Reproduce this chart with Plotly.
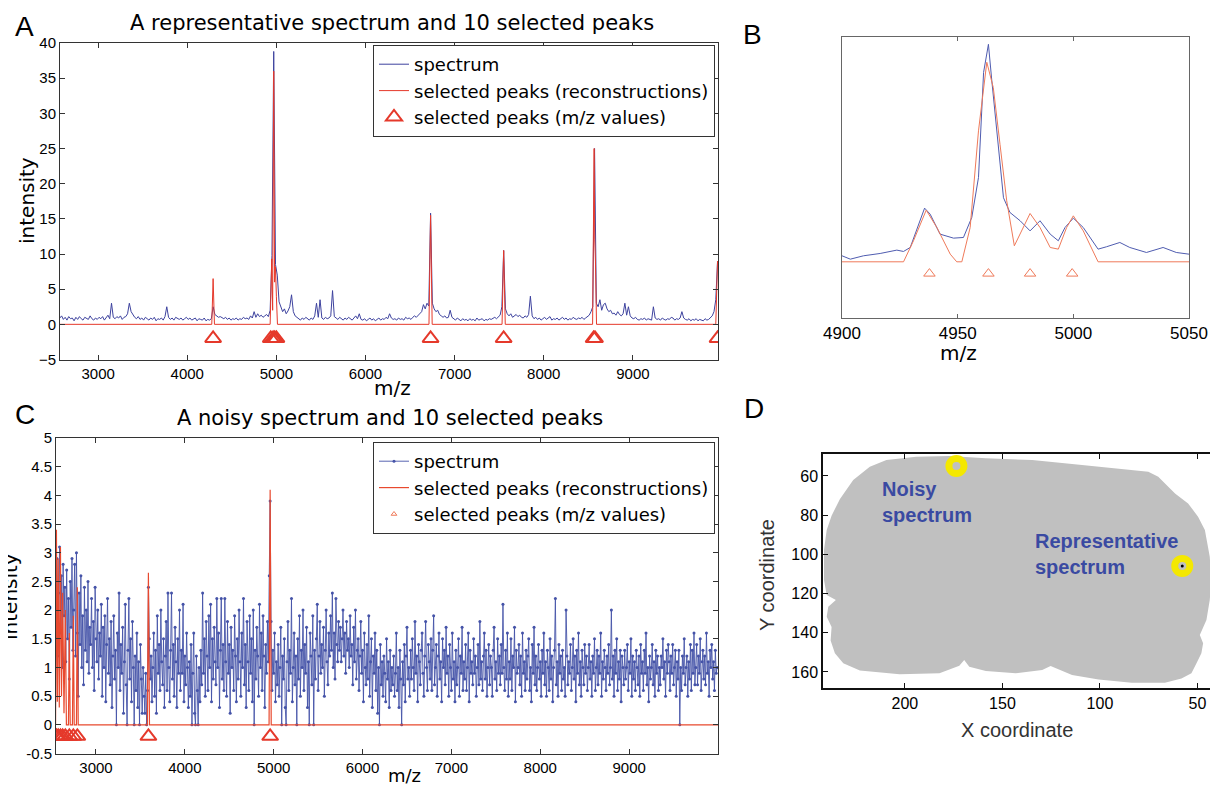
import plotly.graph_objects as go

# reference page size and the browser's default body margin
PAGE_W, PAGE_H = 1218, 787
OFF = 8
W, H = PAGE_W - OFF, PAGE_H - OFF

# ---------------- data: panel A (representative spectrum) ----------------
MZ_A_START, MZ_A_STEP = 2570, 20
SPEC_A = [
    0.9, 1.2, 0.7, 1.0, 0.6, 1.1, 0.8, 0.9, 0.5, 1.0,
    0.7, 1.1, 0.8, 0.6, 1.0, 0.9, 0.7, 1.2, 0.8, 0.6,
    0.9, 0.7, 1.0, 0.8, 1.1, 0.6, 0.9, 1.3, 0.8, 3.0,
    1.0, 0.8, 1.1, 0.9, 1.2, 0.7, 1.0, 1.1, 1.5, 3.0,
    1.8, 1.3, 1.0, 0.8, 1.1, 0.7, 0.9, 0.6, 1.0, 0.8,
    0.6, 0.9, 0.7, 1.0, 0.5, 0.8, 0.7, 0.9, 0.6, 1.1,
    2.5, 1.0, 0.7, 0.9, 0.6, 1.0, 0.8, 0.7, 0.9, 0.6,
    0.8, 1.0, 0.7, 0.9, 0.6, 0.8, 0.9, 0.5, 0.8, 0.7,
    0.6, 0.9, 0.5, 0.7, 0.6, 0.8, 2.5, 1.4, 1.2, 1.0,
    1.1, 0.9, 0.8, 1.0, 0.7, 0.9, 0.6, 0.8, 0.7, 0.9,
    0.6, 0.8, 0.7, 1.0, 0.8, 0.9, 0.7, 1.2, 0.9, 1.8,
    1.0, 1.5, 1.1, 1.3, 1.0, 1.2, 1.4, 1.1, 2.0, 9.8,
    38.8, 8.5, 7.0, 3.2, 2.4, 1.8, 2.2, 1.5, 1.9, 2.5,
    4.2, 1.8, 1.2, 1.0, 0.8, 0.6, 0.9, 0.7, 1.0, 0.8,
    0.6, 0.9, 0.7, 1.2, 3.0, 1.0, 3.5, 0.9, 0.7, 1.0,
    0.8, 0.9, 1.2, 4.8, 1.1, 0.9, 0.7, 1.0, 0.8, 0.6,
    0.9, 0.7, 1.0, 0.8, 0.6, 0.9, 1.2, 0.8, 1.5, 0.7,
    0.6, 0.8, 0.5, 0.7, 0.9, 0.6, 0.8, 0.5, 0.7, 0.9,
    0.6, 0.8, 0.7, 1.0, 0.8, 1.5, 0.9, 0.7, 0.8, 0.6,
    0.9, 0.7, 0.8, 0.6, 1.0, 0.8, 0.9, 0.7, 1.0, 1.2,
    1.0, 1.3, 1.5, 1.8, 2.8, 2.2, 3.0, 2.6, 15.8, 3.0,
    2.2, 1.8, 2.0, 1.4, 1.2, 1.0, 1.2, 0.9, 1.0, 2.0,
    1.0, 0.8, 0.6, 0.9, 0.7, 0.5, 0.8, 0.6, 0.7, 0.5,
    0.8, 0.6, 0.7, 0.5, 0.9, 0.6, 0.7, 0.8, 0.5, 0.7,
    0.6, 0.8, 0.7, 0.9, 1.0, 0.8, 1.1, 1.3, 2.5, 10.5,
    2.2, 1.5, 1.2, 1.5, 1.0, 1.2, 1.4, 1.1, 1.3, 1.0,
    0.9, 1.2, 1.0, 1.4, 4.0, 1.2, 0.8, 1.0, 0.7, 0.9,
    0.6, 0.8, 1.0, 0.7, 0.9, 1.1, 0.6, 0.8, 0.7, 0.9,
    0.6, 0.8, 1.0, 0.7, 0.9, 0.6, 0.8, 0.7, 1.0, 0.8,
    0.7, 0.9, 0.8, 1.0, 0.7, 0.9, 1.1, 1.3, 1.8, 2.5,
    25.0, 3.0, 2.5, 3.5, 2.0, 2.8, 3.0, 2.2, 1.8, 2.0,
    1.5, 1.6, 1.3, 1.8, 1.4, 1.2, 1.5, 3.0, 1.3, 2.5,
    1.2, 0.9, 0.8, 1.0, 0.7, 0.6, 0.8, 0.7, 0.9, 0.6,
    0.8, 0.7, 0.6, 2.5, 0.9, 0.7, 0.8, 0.6, 0.9, 0.7,
    0.6, 0.8, 0.7, 1.0, 0.9, 0.6, 0.8, 0.7, 0.9, 1.8,
    0.9, 0.7, 0.6, 0.8, 0.5, 0.7, 0.6, 0.8, 0.5, 0.7,
    0.6, 0.5, 0.8, 0.6, 0.7, 0.9, 1.2, 1.8, 3.5, 9.0,
]
RECON_A_MZ = [2570, 4275, 4290, 4305, 4930, 4948, 4958, 4970, 4980, 4990, 5000, 5012,
              6712, 6730, 6748, 7532, 7550, 7568, 8548, 8565, 8572, 8580, 8592, 9930, 9950]
RECON_A_INT = [0, 0, 6.5, 0, 0, 9.3, 2.0, 36.0, 6.0, 8.2, 4.0, 0,
               0, 15.5, 0, 0, 10.5, 0, 0, 25.0, 12.0, 9.0, 0, 0, 9.0]
PEAKS_A_MZ = [4290, 4937, 4963, 4981, 5000, 6730, 7550, 8560, 8575, 9950]
PEAK_LEVEL_A = -2.0

# ---------------- data: panel B (zoom 4900-5050) ----------------
B_BLUE_MZ = [4900, 4903.6, 4909.3, 4916.5, 4923.7, 4926.6, 4929.5, 4935.7, 4938.1, 4942.4,
             4948.2, 4952.5, 4956.1, 4959.0, 4961.2, 4963.3, 4964.7, 4966.9, 4969.8, 4972.6,
             4977.0, 4981.3, 4985.6, 4990.0, 4993.5, 4996.4, 5000.0, 5004.3, 5010.7, 5014.3,
             5020.1, 5024.4, 5031.6, 5038.8, 5044.5, 5050]
B_BLUE_INT = [1.07, 0.47, 1.07, 1.48, 2.08, 1.84, 2.55, 9.55, 8.48, 4.92,
              4.21, 4.33, 7.89, 15.0, 33.7, 38.7, 32.5, 23.9, 11.4, 8.78,
              7.3, 5.5, 7.3, 4.92, 3.74, 6.1, 7.77, 6.1, 2.25, 2.67,
              3.44, 2.55, 1.66, 2.55, 1.66, 1.36]
B_RED_MZ = [4900, 4926.6, 4930.9, 4936.4, 4941.0, 4946.8, 4949.6, 4951.8, 4955.4, 4959.0,
            4962.6, 4965.4, 4968.3, 4971.2, 4974.5, 4978.4, 4981.3, 4985.6, 4990.0, 4993.5,
            4997.1, 5000.0, 5004.3, 5010.7, 5050]
B_RED_INT = [0, 0, 3.74, 9.19, 6.1, 1.36, 0, 0, 6.1, 23.3,
             35.5, 31.0, 20.9, 10.85, 2.85, 6.1, 8.6, 6.1, 2.55, 2.25,
             6.1, 8.18, 5.5, 0, 0]
PEAKS_B_MZ = [4937.8, 4963.3, 4981.3, 4999.5]
PEAK_LEVEL_B = -2.1

# ---------------- data: panel C (noisy spectrum) ----------------
MZ_C_START, MZ_C_STEP = 2550, 10
SPEC_C = [
    1.8, 2.9, 1.2, 2.3, 3.1, 1.6, 2.6, 1.0, 2.8, 1.9,
    2.4, 1.1, 2.7, 1.5, 2.2, 0.8, 2.5, 1.7, 2.9, 1.3,
    2.0, 2.8, 1.2, 3.0, 1.6, 0.5, 2.3, 1.4, 2.6, 1.0,
    1.9, 0.7, 2.4, 1.3, 2.0, 1.1, 2.5, 0.9, 1.7, 1.4,
    2.2, 1.0, 1.8, 0.6, 2.4, 1.5, 1.1, 2.0, 0.8, 1.6,
    1.2, 2.1, 0.5, 1.7, 1.0, 1.9, 0.4, 1.4, 2.2, 0.9,
    1.5, 0.7, 1.8, 0.3, 1.2, 1.9, 0.8, 1.3, 0.0, 1.6,
    1.0, 2.3, 0.6, 1.4, 0.9, 1.7, 0.2, 1.1, 2.1, 0.7,
    0.0, 1.3, 2.2, 0.8, 1.5, 0.4, 1.8, 1.0, 0.0, 1.2,
    0.6, 1.6, 0.3, 1.1, 0.0, 1.4, 0.8, 0.2, 1.0, 0.5,
    0.2, 0.9, 0.0, 0.6, 2.4, 1.5, 0.8, 1.2, 0.4, 1.0,
    1.6, 0.5, 1.3, 0.2, 1.9, 0.9, 1.4, 0.6, 2.0, 1.1,
    0.7, 1.5, 0.3, 1.2, 1.8, 0.6, 2.3, 1.0, 0.4, 1.3,
    2.3, 0.8, 1.4, 0.5, 1.7, 1.1, 0.3, 1.5, 0.9, 2.0,
    0.6, 1.3, 0.9, 2.1, 0.4, 1.2, 0.7, 1.6, 1.0, 0.3,
    1.1, 0.5, 1.4, 0.0, 0.9, 1.6, 0.2, 0.0, 1.2, 0.6,
    0.0, 1.0, 0.4, 1.3, 0.7, 2.3, 0.9, 1.5, 0.5, 1.8,
    1.2, 0.6, 1.9, 1.0, 2.1, 0.4, 1.5, 0.8, 1.7, 1.1,
    0.7, 2.2, 1.0, 1.6, 0.3, 1.3, 2.2, 0.8, 1.4, 0.6,
    2.2, 1.1, 0.5, 1.8, 0.9, 1.4, 0.2, 1.7, 1.0, 1.3,
    0.6, 1.9, 1.2, 0.4, 1.5, 0.8, 2.0, 1.1, 0.5, 1.6,
    1.0, 2.2, 0.7, 1.4, 0.3, 1.8, 1.1, 0.6, 1.9, 0.9,
    1.5, 0.4, 2.0, 0.0, 1.3, 0.8, 1.7, 1.2, 0.5, 2.1,
    1.0, 1.6, 0.6, 1.9, 1.2, 0.3, 1.4, 0.9, 1.8, 1.1,
    2.6, 3.9, 1.8, 0.6, 1.3, 0.9, 1.6, 0.4, 1.1, 0.7,
    1.4, 0.5, 1.0, 1.7, 0.0, 1.2, 0.8, 1.5, 0.3, 0.0,
    1.1, 1.8, 0.6, 1.3, 0.9, 2.2, 0.4, 1.0, 1.6, 0.7,
    1.2, 0.0, 1.5, 0.8, 1.9, 0.5, 1.3, 1.0, 2.0, 0.6,
    1.4, 0.9, 1.7, 0.3, 1.1, 0.0, 1.6, 1.2, 0.7, 1.9,
    0.0, 1.3, 0.8, 1.5, 2.1, 0.6, 1.2, 1.8, 0.9, 1.4,
    1.0, 1.7, 0.5, 1.3, 2.0, 1.1, 0.7, 1.6, 1.2, 1.9,
    1.3, 2.3, 1.0, 1.6, 0.8, 2.2, 1.4, 1.1, 1.8, 1.3,
    1.7, 1.1, 1.5, 2.0, 1.2, 1.6, 0.9, 1.8, 1.3, 1.5,
    1.0, 1.9, 1.2, 1.4, 0.7, 1.7, 1.1, 2.0, 0.8, 1.3,
    1.5, 0.6, 1.2, 1.8, 0.9, 1.3, 0.4, 1.6, 1.0, 0.7,
    1.4, 0.8, 1.9, 0.5, 1.1, 1.5, 0.3, 1.2, 0.9, 1.6,
    0.6, 1.3, 0.2, 1.0, 0.0, 1.4, 0.7, 1.1, 0.5, 1.2,
    0.9, 0.4, 1.5, 0.8, 1.1, 0.3, 1.3, 0.6, 1.0, 0.7,
    1.2, 0.5, 0.9, 1.6, 0.6, 1.0, 0.3, 1.3, 0.8, 0.0,
    1.1, 0.7, 1.4, 0.4, 1.2, 1.7, 0.8, 1.0, 0.5, 1.3,
    0.8, 1.5, 1.0, 0.6, 1.8, 0.9, 1.2, 0.4, 1.4, 1.1,
    0.7, 1.3, 1.6, 0.9, 0.5, 1.2, 1.8, 1.0, 0.6, 1.4,
    1.1, 0.8, 1.5, 0.6, 1.3, 1.9, 0.7, 1.0, 1.4, 0.5,
    1.2, 1.6, 0.8, 1.1, 0.4, 1.5, 1.0, 1.3, 0.7, 1.7,
    0.9, 1.2, 0.5, 1.4, 1.0, 0.6, 1.6, 0.8, 1.1, 0.4,
    1.3, 0.7, 1.0, 1.5, 0.5, 1.2, 0.9, 1.7, 0.6, 1.1,
    0.8, 1.4, 0.6, 1.0, 1.6, 0.4, 1.3, 0.9, 1.1, 0.7,
    1.5, 0.9, 1.2, 0.5, 1.0, 1.4, 0.7, 1.8, 0.8, 1.1,
    0.6, 1.2, 1.6, 0.8, 1.3, 0.5, 1.0, 1.4, 0.7, 1.2,
    1.0, 0.5, 1.3, 1.7, 0.8, 1.1, 0.6, 1.5, 0.9, 1.2,
    0.7, 1.4, 0.9, 2.1, 1.0, 0.6, 1.3, 0.8, 1.6, 0.5,
    1.1, 0.8, 1.5, 0.6, 1.2, 1.0, 1.7, 0.4, 1.3, 0.9,
    1.0, 1.4, 0.7, 1.2, 0.5, 1.6, 0.9, 1.1, 0.6, 1.3,
    0.8, 1.2, 1.5, 0.6, 1.0, 0.4, 1.4, 0.9, 1.7, 0.7,
    1.2, 0.6, 1.0, 1.4, 0.8, 1.1, 0.5, 1.3, 0.9, 1.6,
    0.7, 1.1, 0.5, 1.3, 1.0, 0.6, 1.5, 0.8, 1.2, 0.4,
    1.0, 1.3, 2.2, 0.7, 1.1, 0.5, 1.4, 0.9, 1.2, 0.6,
    1.3, 0.8, 1.0, 0.5, 2.0, 1.2, 0.7, 1.1, 0.9, 1.4,
    0.6, 1.0, 1.5, 0.8, 1.2, 0.4, 1.3, 0.9, 1.6, 0.7,
    1.1, 0.5, 1.3, 1.0, 0.7, 1.4, 0.9, 1.2, 0.6, 1.0,
    1.4, 0.8, 1.1, 0.5, 1.2, 0.9, 1.5, 0.6, 1.0, 1.3,
    0.7, 1.2, 0.9, 1.6, 0.5, 1.1, 0.8, 1.3, 1.0, 0.6,
    1.2, 0.9, 1.4, 0.7, 1.0, 2.0, 0.8, 1.2, 0.5, 1.3,
    0.9, 1.5, 0.6, 1.1, 0.8, 1.3, 0.4, 1.2, 1.0, 0.7,
    1.3, 0.8, 1.0, 1.4, 0.6, 1.1, 0.9, 1.5, 0.5, 1.2,
    0.8, 1.1, 0.6, 1.3, 1.0, 0.7, 1.2, 0.5, 1.4, 0.9,
    1.1, 0.6, 1.3, 0.9, 1.6, 0.7, 1.0, 0.4, 1.2, 0.8,
    1.0, 1.4, 0.7, 1.1, 0.5, 1.3, 0.9, 1.2, 0.6, 1.0,
    0.7, 1.2, 1.0, 1.5, 0.8, 1.1, 0.5, 1.3, 0.9, 1.4,
    1.1, 0.6, 1.2, 0.9, 1.4, 0.7, 1.0, 1.3, 0.5, 1.1,
    0.8, 1.3, 0.0, 1.0, 0.6, 1.2, 0.9, 1.5, 0.7, 1.0,
    1.2, 0.5, 1.1, 0.8, 1.4, 0.6, 1.3, 0.9, 1.6, 0.7,
    1.0, 1.4, 0.7, 1.2, 0.9, 1.5, 0.6, 1.1, 1.3, 0.8,
    1.2, 0.7, 1.6, 0.9, 1.1, 0.5, 1.3, 1.0, 1.4, 0.8,
    1.1, 0.6, 1.3, 0.9, 1.0,
]
RECON_C_MZ = [2545, 2555, 2565, 2575, 2587, 2600, 2612, 2625, 2640, 2655, 2667,
              2690, 2700, 2710, 2735, 2745, 2755, 2780, 2790, 2800,
              3578, 3590, 3602, 4948, 4960, 4972, 10000]
RECON_C_INT = [0, 3.4, 0.4, 2.9, 0.3, 3.1, 0.5, 2.3, 0.2, 2.0, 0,
               0, 1.6, 0, 0, 1.9, 0, 0, 2.4, 0,
               0, 2.65, 0, 0, 4.1, 0, 0]
PEAKS_C_MZ = [2555, 2575, 2600, 2625, 2655, 2700, 2745, 2790, 3590, 4960]
PEAK_LEVEL_C = -0.2

# ---------------- data: panel D (tissue map) ----------------
TISSUE_X = [218.0, 209.5, 194.2, 177.2, 158.5, 134.7, 109.2, 83.7, 75.2, 70.1, 61.5, 54.8,
            49.7, 46.2, 43.7, 42.9, 43.7, 45.4, 48.8, 47.1, 48.0, 50.5, 53.1, 58.2, 66.7,
            83.7, 100.7, 114.3, 122.8, 125.3, 129.6, 143.2, 158.5, 167.0, 169.6, 172.1,
            182.3, 202.7, 223.1, 231.6, 235.9, 238.1, 237.6, 240.1, 239.3, 235.4, 240.1,
            241.5, 241.5, 240.1, 237.6, 233.3, 226.5]
TISSUE_Y = [55.3, 51.9, 50.2, 49.8, 51.0, 51.9, 54.4, 57.0, 57.8, 60.4, 68.9, 74.0,
            80.8, 87.6, 101.2, 113.1, 123.3, 133.5, 141.2, 145.4, 150.5, 155.6, 160.7,
            163.3, 165.5, 165.5, 163.8, 161.6, 158.2, 157.0, 159.0, 160.7, 159.5, 157.3,
            153.9, 156.9, 160.7, 161.2, 159.3, 155.6, 150.5, 143.9, 137.1, 131.9, 126.8,
            123.3, 120.7, 113.1, 97.8, 87.6, 80.3, 71.7, 62.1]
SPOT_X = [173.6, 57.8]
SPOT_Y = [54.9, 105.9]
SPOT_LABELS = ["Noisy<br>spectrum", "Representative<br>spectrum"]
LABEL_X = [212.9, 134.3]
LABEL_Y = [73.3, 99.8]

# ---------------- styling ----------------
BLUE = "#3d429e"
BLUE_C = "#4553a8"
RED = "#e5392b"
RED_C = "#e8492e"
RED_B = "#ef7a5a"
BLUE_B = "#4f5cb0"
TXT = "DejaVu Sans"
TICK = "Liberation Sans"

mz_a = [MZ_A_START + MZ_A_STEP * i for i in range(len(SPEC_A))]
mz_c = [MZ_C_START + MZ_C_STEP * i for i in range(len(SPEC_C))]

fig = go.Figure()

# Panel A
fig.add_trace(go.Scatter(x=mz_a, y=SPEC_A, mode="lines", name="spectrum",
                         line=dict(color=BLUE, width=1), xaxis="x", yaxis="y", legend="legend"))
fig.add_trace(go.Scatter(x=RECON_A_MZ, y=RECON_A_INT, mode="lines",
                         name="selected peaks (reconstructions)",
                         line=dict(color=RED, width=1), xaxis="x", yaxis="y", legend="legend"))
fig.add_trace(go.Scatter(x=PEAKS_A_MZ, y=[PEAK_LEVEL_A] * len(PEAKS_A_MZ), mode="markers",
                         name="selected peaks (m/z values)",
                         marker=dict(symbol="triangle-up-open", size=14, color=RED,
                                     line=dict(width=2, color=RED)),
                         xaxis="x", yaxis="y", legend="legend"))

# Panel B
fig.add_trace(go.Scatter(x=B_BLUE_MZ, y=B_BLUE_INT, mode="lines", showlegend=False,
                         line=dict(color=BLUE_B, width=1), xaxis="x2", yaxis="y2"))
fig.add_trace(go.Scatter(x=B_RED_MZ, y=B_RED_INT, mode="lines", showlegend=False,
                         line=dict(color=RED_B, width=1), xaxis="x2", yaxis="y2"))
fig.add_trace(go.Scatter(x=PEAKS_B_MZ, y=[PEAK_LEVEL_B] * len(PEAKS_B_MZ), mode="markers",
                         showlegend=False,
                         marker=dict(symbol="triangle-up-open", size=10, color=RED_B,
                                     line=dict(width=1, color=RED_B)),
                         xaxis="x2", yaxis="y2"))

# Panel C
fig.add_trace(go.Scatter(x=mz_c, y=SPEC_C, mode="lines+markers", name="spectrum",
                         line=dict(color=BLUE_C, width=0.9),
                         marker=dict(size=3, color=BLUE_C),
                         xaxis="x3", yaxis="y3", legend="legend2"))
fig.add_trace(go.Scatter(x=RECON_C_MZ, y=RECON_C_INT, mode="lines",
                         name="selected peaks (reconstructions)",
                         line=dict(color=RED_C, width=1.2), xaxis="x3", yaxis="y3", legend="legend2"))
fig.add_trace(go.Scatter(x=PEAKS_C_MZ, y=[PEAK_LEVEL_C] * len(PEAKS_C_MZ), mode="markers",
                         showlegend=False,
                         marker=dict(symbol="triangle-up-open", size=14, color=RED,
                                     line=dict(width=2, color=RED)),
                         xaxis="x3", yaxis="y3"))
fig.add_trace(go.Scatter(x=[None], y=[None], mode="markers", name="selected peaks (m/z values)",
                         marker=dict(symbol="triangle-up-open", size=5, color=RED_B,
                                     line=dict(width=1, color=RED_B)),
                         xaxis="x3", yaxis="y3", legend="legend2"))

# Panel D
fig.add_trace(go.Scatter(x=TISSUE_X, y=TISSUE_Y, mode="lines", fill="toself",
                         fillcolor="#c0c0c0", line=dict(width=0, color="#c0c0c0"),
                         showlegend=False, hoverinfo="skip", xaxis="x4", yaxis="y4"))
fig.add_trace(go.Scatter(x=SPOT_X, y=SPOT_Y, mode="markers", showlegend=False,
                         marker=dict(symbol="circle-open", size=15, color="#f4e800",
                                     line=dict(width=7, color="#f4e800")),
                         xaxis="x4", yaxis="y4"))
fig.add_trace(go.Scatter(x=SPOT_X[1:], y=SPOT_Y[1:], mode="markers", showlegend=False,
                         marker=dict(symbol="circle", size=3, color="black"),
                         xaxis="x4", yaxis="y4"))


def fx(p):
    return (p - OFF) / W


def fy(p):
    return 1 - (p - OFF) / H


def dom_x(a, b):
    return [fx(a), fx(b)]


def dom_y(top, bottom):
    return [fy(bottom), fy(top)]


box = dict(showline=True, linecolor="#333333", linewidth=1, mirror="ticks", ticks="inside",
           ticklen=5, tickcolor="#333333", showgrid=False, zeroline=False, automargin=False)

fig.update_layout(
    width=W, height=H, margin=dict(l=0, r=0, t=0, b=0, pad=0, autoexpand=False),
    paper_bgcolor="white", plot_bgcolor="white",
    font=dict(family=TICK, color="black"),
    xaxis=dict(domain=dom_x(60, 718), range=[2572, 9955], anchor="y",
               tickvals=[3000, 4000, 5000, 6000, 7000, 8000, 9000],
               tickfont=dict(size=15), **box),
    yaxis=dict(domain=dom_y(43, 359.5), range=[-5, 40], anchor="x",
               tickvals=[-5, 0, 5, 10, 15, 20, 25, 30, 35, 40],
               tickfont=dict(size=15), **box),
    xaxis2=dict(domain=dom_x(842, 1189), range=[4900, 5050], anchor="y2",
                tickvals=[4900, 4950, 5000, 5050], tickfont=dict(size=17),
                showline=True, linecolor="#666666", linewidth=1, mirror="ticks",
                ticks="inside", ticklen=4, tickcolor="#666666", showgrid=False,
                zeroline=False, automargin=False),
    yaxis2=dict(domain=dom_y(37, 318), range=[-10, 40], anchor="x2",
                showticklabels=False, ticks="", showline=True, linecolor="#666666",
                linewidth=1, mirror=True, showgrid=False, zeroline=False, automargin=False),
    xaxis3=dict(domain=dom_x(56, 718), range=[2550, 10000], anchor="y3",
                tickvals=[3000, 4000, 5000, 6000, 7000, 8000, 9000],
                tickfont=dict(size=15), **box),
    yaxis3=dict(domain=dom_y(438, 753.5), range=[-0.5, 5], anchor="x3",
                tickvals=[-0.5, 0, 0.5, 1, 1.5, 2, 2.5, 3, 3.5, 4, 4.5, 5],
                ticktext=["-0.5", "0", "0.5", "1", "1.5", "2", "2.5", "3", "3.5", "4", "4.5", "5"],
                tickfont=dict(size=15), **box),
    xaxis4=dict(domain=dom_x(823, 1216), range=[242, 40.5], anchor="y4",
                tickvals=[200, 150, 100, 50], tickfont=dict(size=16),
                showline=True, linecolor="#111111", linewidth=1.5, mirror="ticks",
                ticks="inside", ticklen=5, tickcolor="#111111", showgrid=False,
                zeroline=False, automargin=False),
    yaxis4=dict(domain=dom_y(454, 688), range=[168.2, 48.8], anchor="x4",
                tickvals=[60, 80, 100, 120, 140, 160], tickfont=dict(size=16),
                showline=True, linecolor="#111111", linewidth=1.5, mirror="ticks",
                ticks="inside", ticklen=5, tickcolor="#111111", showgrid=False,
                zeroline=False, automargin=False),
    legend=dict(x=fx(715), xanchor="right", y=fy(45), yanchor="top",
                bordercolor="#333333", borderwidth=1, bgcolor="white",
                font=dict(family=TXT, size=18, color="black"), tracegroupgap=0),
    legend2=dict(x=fx(715), xanchor="right", y=fy(442), yanchor="top",
                 bordercolor="#333333", borderwidth=1, bgcolor="white",
                 font=dict(family=TXT, size=18, color="black"), tracegroupgap=0),
)


def pa(text, x, y, size, family=TXT, angle=0, color="black"):
    fig.add_annotation(text=text, x=fx(x), y=fy(y), xref="paper", yref="paper",
                       xanchor="center", yanchor="middle", showarrow=False,
                       textangle=angle, font=dict(family=family, size=size, color=color))


pa("A", 24, 26, 28, family=TICK)
pa("A representative spectrum and 10 selected peaks", 392, 23, 21)
pa("intensity", 27, 201, 20, angle=-90)
pa("m/z", 392, 388, 20)
pa("B", 753, 34, 28, family=TICK)
pa("m/z", 958, 353, 20)
pa("C", 25, 414, 28, family=TICK)
pa("A noisy spectrum and 10 selected peaks", 390, 418, 21)
pa("intensity", 10, 597, 20, angle=-90)
pa("m/z", 405, 775, 18)
pa("D", 754, 408, 28, family=TICK)
pa("Y coordinate", 767, 575, 20, family=TICK, angle=-90, color="#333333")
pa("X coordinate", 1017, 730, 20, family=TICK, color="#333333")

for lx, ly, lt in zip(LABEL_X, LABEL_Y, SPOT_LABELS):
    fig.add_annotation(text="<b>%s</b>" % lt, x=lx, y=ly, xref="x4", yref="y4",
                       xanchor="left", yanchor="middle", align="left", showarrow=False,
                       font=dict(family=TICK, size=20, color="#3a4aa2"))

fig.write_html("out.html")
